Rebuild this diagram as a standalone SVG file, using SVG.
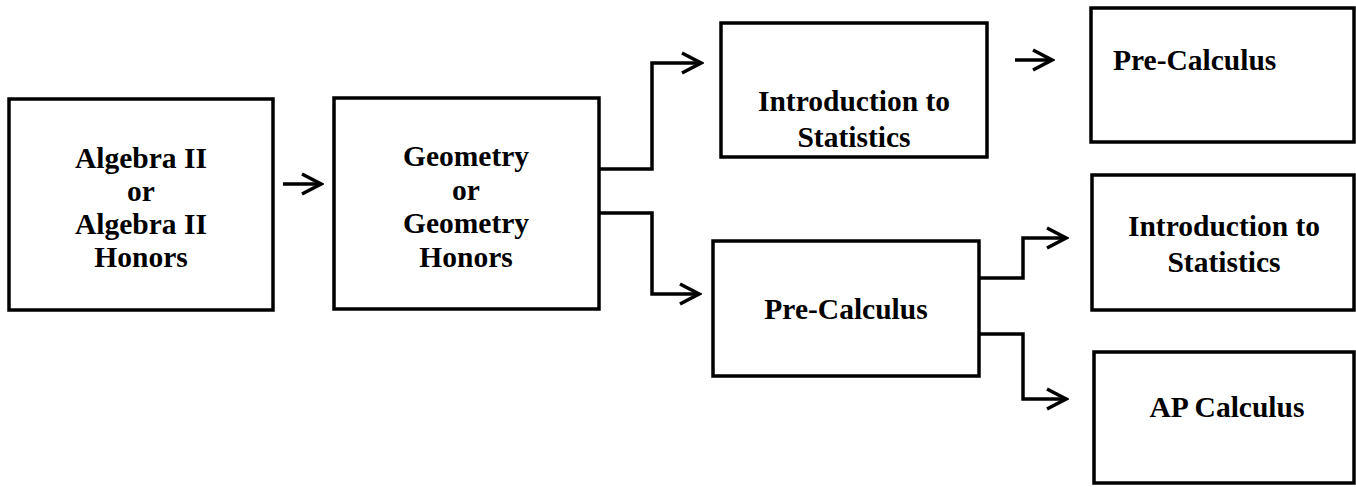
<svg xmlns="http://www.w3.org/2000/svg" width="1356" height="487" viewBox="0 0 1356 487">
<style>
.box{fill:#fff;stroke:#000;stroke-width:3.5}
.lbl{font-family:"Liberation Serif","Times New Roman",serif;font-weight:bold;font-size:29.5px;fill:#000}
.c{text-anchor:middle}
.con{fill:none;stroke:#000;stroke-width:3.5;marker-end:url(#arr)}
</style>
<defs>
<marker id="arr" viewBox="0 0 24 24" refX="21" refY="12" markerWidth="24" markerHeight="24" markerUnits="userSpaceOnUse" orient="auto">
<path d="M2,2 L21,12 L2,22" fill="none" stroke="#000" stroke-width="3.5"/>
</marker>
</defs>
<rect width="1356" height="487" fill="#fff"/>
<g id="connectors">
<path class="con" d="M283,184 H321"/>
<path class="con" d="M599,169 H652 V63 H701"/>
<path class="con" d="M599,213 H652 V294 H699"/>
<path class="con" d="M1015,60 H1052"/>
<path class="con" d="M979,278 H1023 V238 H1066"/>
<path class="con" d="M979,334 H1023 V399 H1066"/>
</g>
<g id="n1">
<rect class="box" x="9" y="99" width="264" height="211"/>
<text class="lbl c" x="141" y="168">Algebra II</text>
<text class="lbl c" x="141" y="201">or</text>
<text class="lbl c" x="141" y="234">Algebra II</text>
<text class="lbl c" x="141" y="267">Honors</text>
</g>
<g id="n2">
<rect class="box" x="334" y="98" width="265" height="211"/>
<text class="lbl c" x="466" y="166">Geometry</text>
<text class="lbl c" x="466" y="200">or</text>
<text class="lbl c" x="466" y="233">Geometry</text>
<text class="lbl c" x="466" y="267">Honors</text>
</g>
<g id="n3">
<rect class="box" x="721" y="23" width="266" height="134"/>
<text class="lbl c" x="854" y="111">Introduction to</text>
<text class="lbl c" x="854" y="147">Statistics</text>
</g>
<g id="n4">
<rect class="box" x="1091" y="8" width="263" height="134"/>
<text class="lbl" x="1113" y="70">Pre-Calculus</text>
</g>
<g id="n5">
<rect class="box" x="713" y="241" width="266" height="135"/>
<text class="lbl c" x="846" y="319">Pre-Calculus</text>
</g>
<g id="n6">
<rect class="box" x="1092" y="175" width="262" height="135"/>
<text class="lbl c" x="1224" y="236">Introduction to</text>
<text class="lbl c" x="1224" y="272">Statistics</text>
</g>
<g id="n7">
<rect class="box" x="1094" y="352" width="260" height="131"/>
<text class="lbl c" x="1227" y="417">AP Calculus</text>
</g>
</svg>
